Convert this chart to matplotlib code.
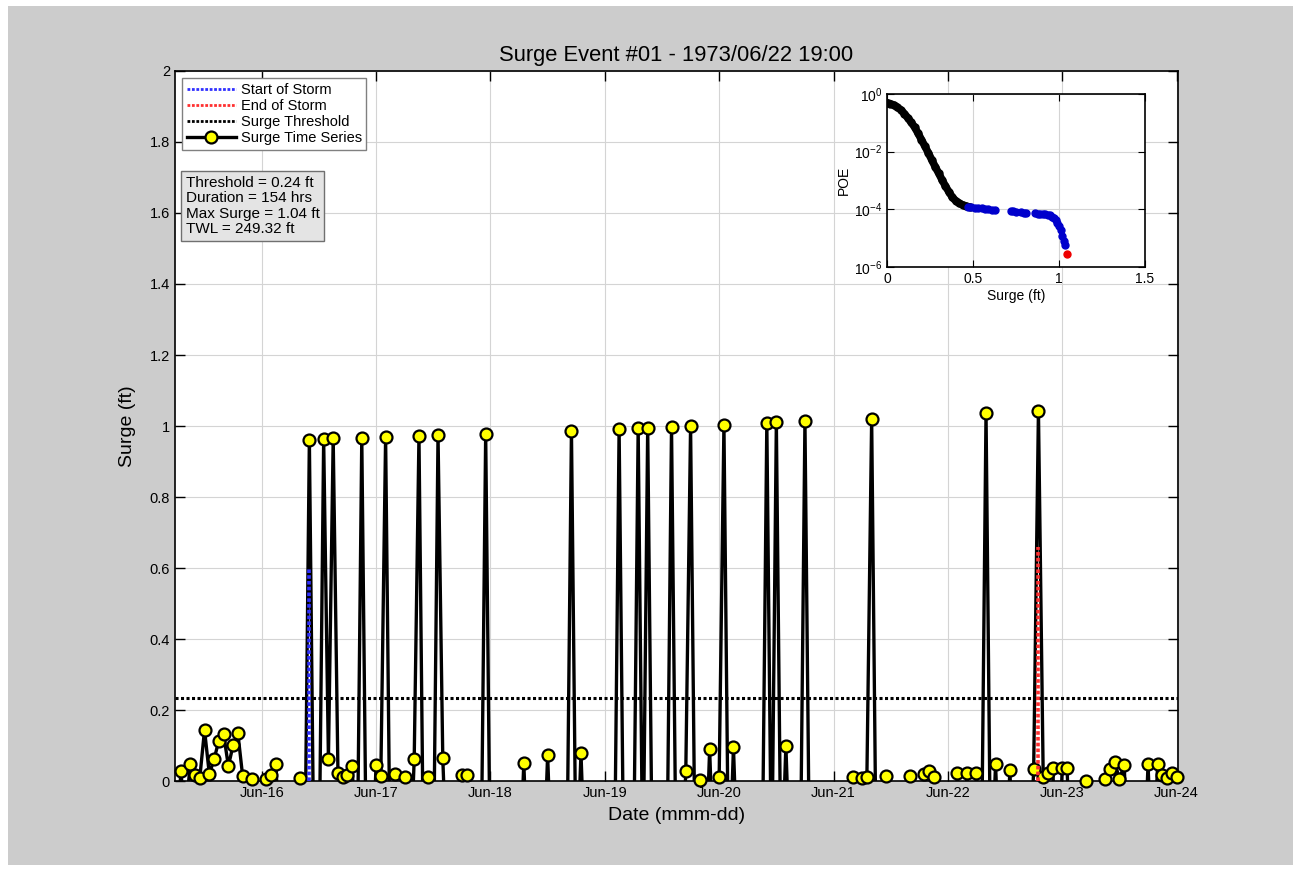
import matplotlib
matplotlib.use('Agg')
import matplotlib.pyplot as plt
import matplotlib.dates as mdates
from matplotlib.lines import Line2D
from matplotlib.patches import Rectangle
import numpy as np
import pandas as pd

plt.rcParams['font.family'] = ['Liberation Sans', 'DejaVu Sans']

# hourly surge (ft) starting 1973-06-15 06:00, negative values fall below the axis
series_start = '1973-06-15 06:00'
surge = [
    # Jun-15 06:00 - 23:00
    -0.3, 0.028, -0.1, 0.048, 0.017, 0.008, 0.144, 0.020, 0.061, 0.114, 0.133, 0.042,
    0.101, 0.134, 0.014, -0.05, 0.005, -0.1,
    # Jun-16
    -0.1, 0.006, 0.017, 0.047, -0.3, -0.3, -0.3, -0.3, 0.009, -0.3, 0.961, -0.3,
    -0.3, 0.963, 0.062, 0.965, 0.023, 0.012, 0.017, 0.043, -0.3, 0.967, -0.3, -0.3,
    # Jun-17
    0.045, 0.015, 0.969, -0.3, 0.019, -0.3, 0.010, -0.3, 0.061, 0.971, -0.3, 0.012,
    -0.3, 0.974, 0.064, -0.3, -0.3, -0.3, 0.016, 0.016, -0.3, -0.3, -0.3, 0.978,
    # Jun-18
    -0.3, -0.3, -0.3, -0.3, -0.3, -0.3, -0.3, 0.051, -0.3, -0.3, -0.3, -0.3,
    0.073, -0.3, -0.3, -0.3, -0.3, 0.987, -0.3, 0.078, -0.3, -0.3, -0.3, -0.3,
    # Jun-19
    -0.3, -0.3, -0.3, 0.992, -0.3, -0.3, -0.3, 0.994, -0.3, 0.995, -0.3, -0.3,
    -0.3, -0.3, 0.998, -0.3, -0.3, 0.029, 1.000, -0.3, 0.003, -0.3, 0.090, -0.3,
    # Jun-20
    0.012, 1.003, -0.3, 0.095, -0.3, -0.3, -0.3, -0.3, -0.3, -0.3, 1.009, -0.3,
    1.010, -0.3, 0.100, -0.3, -0.3, -0.3, 1.014, -0.3, -0.3, -0.3, -0.3, -0.3,
    # Jun-21
    -0.3, -0.3, -0.3, -0.3, 0.010, -0.3, 0.008, 0.010, 1.021, -0.3, -0.3, 0.013,
    -0.3, -0.3, -0.3, -0.3, 0.015, -0.3, -0.3, 0.020, 0.028, 0.012, -0.3, -0.3,
    # Jun-22
    -0.3, -0.3, 0.022, -0.3, 0.023, -0.3, 0.024, -0.3, 1.037, -0.3, 0.047, -0.3,
    -0.3, 0.030, -0.3, -0.3, -0.3, -0.3, 0.033, 1.043, 0.012, 0.022, 0.037, -0.3,
    # Jun-23
    0.037, 0.037, -0.3, -0.3, -0.3, 0.001, -0.3, -0.3, -0.3, 0.005, 0.033, 0.054,
    0.005, 0.045, -0.3, -0.3, -0.3, -0.3, 0.047, -0.3, 0.047, 0.017, 0.008, 0.022,
    # Jun-24 00:00
    0.011,
]

threshold = 0.235
storm_start = '1973-06-16 10:00'
storm_end = '1973-06-22 19:00'
start_line_top = 0.60
end_line_top = 0.66
stats_text = 'Threshold = 0.24 ft\nDuration = 154 hrs\nMax Surge = 1.04 ft\nTWL = 249.32 ft'

y_ticks = [0, 0.2, 0.4, 0.6, 0.8, 1, 1.2, 1.4, 1.6, 1.8, 2]
y_tick_labels = ['0', '0.2', '0.4', '0.6', '0.8', '1', '1.2', '1.4', '1.6', '1.8', '2']

# inset: probability of exceedance vs surge
poe_black_surge = [0.0, 0.02, 0.04, 0.06, 0.08, 0.10, 0.12, 0.14, 0.16, 0.18, 0.20, 0.22,
                   0.24, 0.26, 0.28, 0.30, 0.32, 0.34, 0.36, 0.38, 0.40, 0.42, 0.44, 0.46, 0.48]
poe_black_val = [0.50, 0.46, 0.41, 0.35, 0.28, 0.21, 0.15, 0.105, 0.071, 0.044, 0.026, 0.0155,
                 0.0091, 0.0052, 0.0030, 0.0018, 0.00105, 0.00063, 0.0004, 0.00026, 0.000195,
                 0.000162, 0.000141, 0.000129, 0.00012]
poe_blue_surge = [0.47, 0.49, 0.51, 0.53, 0.55, 0.57, 0.59, 0.61, 0.63,
                  0.72, 0.735, 0.75, 0.78, 0.795, 0.81,
                  0.86, 0.875, 0.89, 0.905, 0.92, 0.935, 0.95, 0.96, 0.97, 0.98,
                  0.99, 1.0, 1.01, 1.02, 1.03, 1.036]
poe_blue_val = [1.2e-4, 1.16e-4, 1.13e-4, 1.1e-4, 1.07e-4, 1.04e-4, 1.01e-4, 9.7e-5, 9.3e-5,
                8.6e-5, 8.5e-5, 8.3e-5, 7.8e-5, 7.6e-5, 7.5e-5,
                7.2e-5, 7.1e-5, 7.0e-5, 6.9e-5, 6.8e-5, 6.6e-5, 6.2e-5, 5.6e-5, 4.9e-5, 4.1e-5,
                3.4e-5, 2.7e-5, 1.9e-5, 1.2e-5, 8.0e-6, 5.6e-6]
poe_red_surge = [1.045]
poe_red_val = [2.8e-6]

times = pd.date_range(series_start, periods=len(surge), freq='h')
surge = np.array(surge)

fig = plt.figure(figsize=(13.01, 8.71), dpi=100)
fig.patch.set_facecolor('white')
fig.patches.append(Rectangle((8 / 1301, 6 / 871), 1285 / 1301, 859 / 871,
                             transform=fig.transFigure, facecolor='#cccccc',
                             edgecolor='none', zorder=-10))

ax = fig.add_axes([0.1345, 0.1033, 0.771, 0.8152])
ax.set_facecolor('white')

ax.axvline(pd.Timestamp(storm_start), ymin=0, ymax=start_line_top / 2, color='#3030ff',
           linestyle=(0, (1, 0.6)), lw=2.6, zorder=5)
ax.axvline(pd.Timestamp(storm_end), ymin=0, ymax=end_line_top / 2, color='#ff3030',
           linestyle=(0, (1, 0.6)), lw=2.6, zorder=5)
ax.axhline(threshold, color='black', linestyle=(0, (1, 0.8)), lw=2.2, zorder=3)

ax.plot(times, surge, '-', color='black', lw=2.4, zorder=4)
vis = surge >= 0
ax.plot(times[vis], surge[vis], 'o', ms=8.6, mfc='#ffff00', mec='black', mew=1.6,
        clip_on=False, zorder=4)

ax.set_ylim(0, 2)
ax.set_xlim(pd.Timestamp('1973-06-15 05:48'), pd.Timestamp('1973-06-24 00:18'))
ax.set_yticks(y_ticks)
ax.set_yticklabels(y_tick_labels)
ax.xaxis.set_major_locator(mdates.DayLocator())
ax.xaxis.set_major_formatter(mdates.DateFormatter('%b-%d'))
ax.tick_params(direction='in', length=7, width=1, top=True, right=True, labelsize=10.5)
ax.grid(True, color='#d4d4d4', lw=0.8)
ax.set_axisbelow(True)
for s in ax.spines.values():
    s.set_linewidth(1.2)

ax.set_title('Surge Event #01 - 1973/06/22 19:00', fontsize=15.8, pad=7)
ax.set_xlabel('Date (mmm-dd)', fontsize=14, labelpad=5)
ax.set_ylabel('Surge (ft)', fontsize=14, labelpad=10)

handles = [
    Line2D([], [], color='#3030ff', linestyle=(0, (1, 0.6)), lw=2),
    Line2D([], [], color='#ff3030', linestyle=(0, (1, 0.6)), lw=2),
    Line2D([], [], color='black', linestyle=(0, (1, 0.6)), lw=2),
    Line2D([], [], color='black', lw=2.4, marker='o', ms=8.6, mfc='#ffff00', mec='black', mew=1.6),
]
leg = ax.legend(handles, ['Start of Storm', 'End of Storm', 'Surge Threshold', 'Surge Time Series'],
                loc='upper left', fontsize=10.5, handlelength=3.4, handletextpad=0.3,
                borderaxespad=0.5, borderpad=0.3, labelspacing=0.15, fancybox=False,
                framealpha=1, edgecolor='#808080')
leg.get_frame().set_linewidth(1)

ax.text(0.011, 0.852, stats_text, transform=ax.transAxes, fontsize=11, va='top', ha='left',
        linespacing=1.12,
        bbox=dict(boxstyle='square,pad=0.3', facecolor='#e4e4e4', edgecolor='#707070', lw=1))

# inset
ins = fig.add_axes([0.6818, 0.6935, 0.1983, 0.1986])
ins.set_facecolor('white')
ins.plot(poe_black_surge, poe_black_val, '-', color='black', lw=5.5, solid_capstyle='round')
ins.plot(poe_black_surge, poe_black_val, 'o', color='black', ms=5)
ins.plot(poe_blue_surge, poe_blue_val, 'o', color='#0000cc', ms=5)
ins.plot(poe_red_surge, poe_red_val, 'o', color='#ee0000', ms=5)
ins.set_yscale('log')
ins.set_xlim(0, 1.5)
ins.set_ylim(1e-6, 1)
ins.set_xticks([0, 0.5, 1, 1.5])
ins.set_xticklabels(['0', '0.5', '1', '1.5'])
ins.set_yticks([1e-6, 1e-4, 1e-2, 1])
ins.yaxis.set_minor_locator(matplotlib.ticker.NullLocator())
ins.tick_params(direction='in', length=5, top=True, right=True, labelsize=10)
ins.grid(True, color='#d4d4d4', lw=0.8)
ins.set_axisbelow(True)
ins.set_xlabel('Surge (ft)', fontsize=10, labelpad=2)
ins.set_ylabel('POE', fontsize=10, labelpad=2)
for s in ins.spines.values():
    s.set_linewidth(1.2)

fig.savefig('out.png', dpi=100, facecolor=fig.get_facecolor())
